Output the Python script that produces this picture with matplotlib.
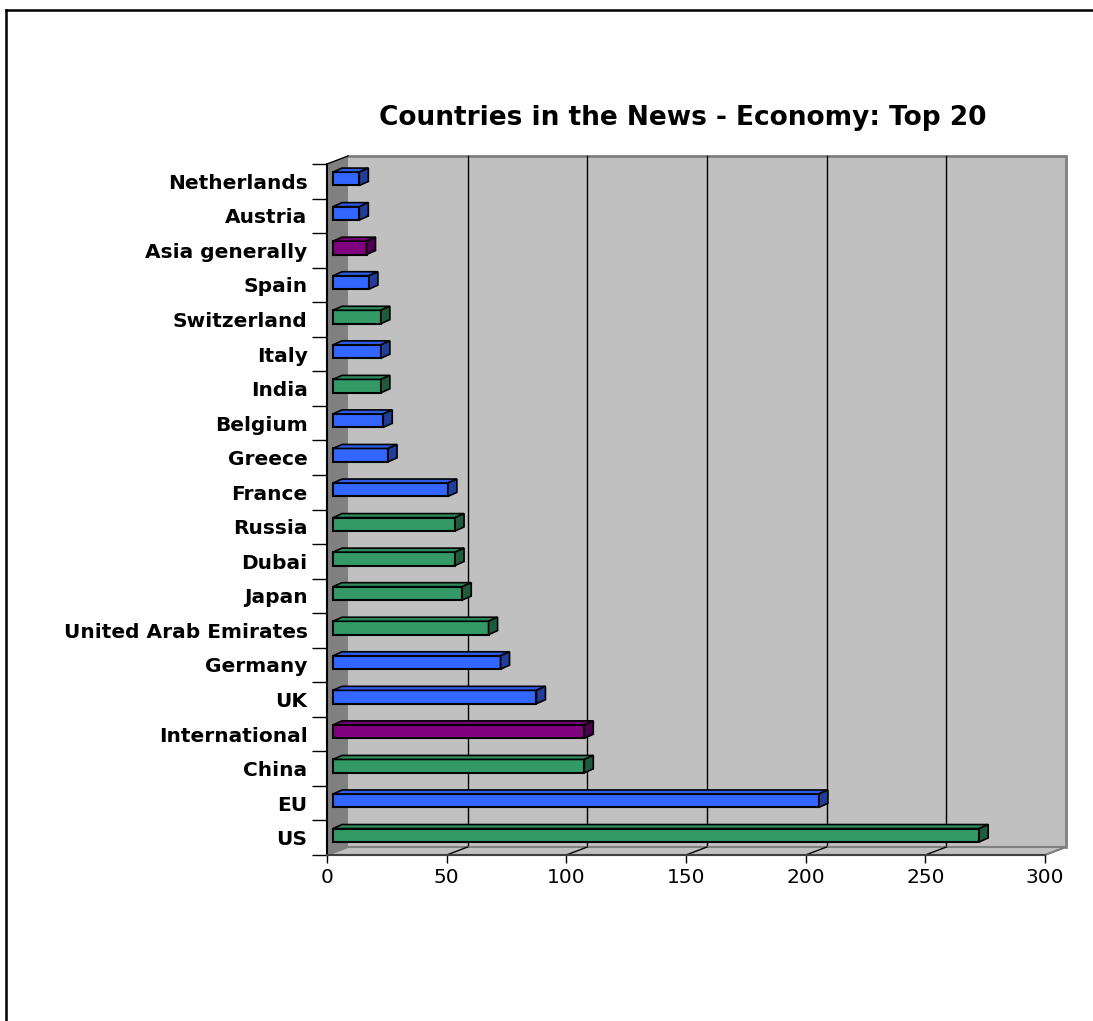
import numpy as np
import matplotlib
matplotlib.use("Agg")
import matplotlib.pyplot as plt
from matplotlib.patches import Polygon
from matplotlib.lines import Line2D

# data, bottom (US) to top (Netherlands)
countries = ["US", "EU", "China", "International", "UK", "Germany",
             "United Arab Emirates", "Japan", "Dubai", "Russia", "France",
             "Greece", "Belgium", "India", "Italy", "Switzerland", "Spain",
             "Asia generally", "Austria", "Netherlands"]
mentions = [270, 203, 105, 105, 85, 70, 65, 54, 51, 51, 48,
            23, 21, 20, 20, 20, 15, 14, 11, 11]
groups = ["green", "blue", "green", "purple", "blue", "blue",
          "green", "green", "green", "green", "blue",
          "blue", "blue", "green", "blue", "green", "blue",
          "purple", "blue", "blue"]
x_ticks = [0, 50, 100, 150, 200, 250, 300]

front_col = {"blue": "#3366ff", "green": "#339966", "purple": "#800080"}
top_col = {"blue": "#2e5ce6", "green": "#2e8a5c", "purple": "#730073"}
side_col = {"blue": "#1f3d99", "green": "#1f5c3d", "purple": "#4d004d"}

W, H = 1093, 1021
fig = plt.figure(figsize=(W / 100, H / 100), dpi=100)
fig.patch.set_facecolor("white")

# front plane of the 3d box
ax = fig.add_axes([327 / W, 1 - 855 / H, 718 / W, 691 / H])
ax.set_xlim(0, 300)
ax.set_ylim(-0.5, 19.5)
ax.patch.set_visible(False)

# pixel offsets -> data offsets
sx = 718 / 300
sy = 691 / 20


def px(dx, dy):
    return dx / sx, dy / sy


Dx, Dy = px(21, 8)          # wall depth
bx, by = px(6, 2.5)         # bar front offset
bdx, bdy = px(9, 4)         # bar depth
bh = 13.4 / sy              # bar height
y0, y1 = -0.5, 19.5
xmax = x_ticks[-1]

# back wall
ax.add_patch(Polygon([(Dx, y0 + Dy), (xmax + Dx, y0 + Dy), (xmax + Dx, y1 + Dy), (Dx, y1 + Dy)],
                     closed=True, fc="#c0c0c0", ec="none", clip_on=False, zorder=0))
ax.plot([Dx, xmax + Dx, xmax + Dx], [y1 + Dy, y1 + Dy, y0 + Dy], color="#808080", lw=2,
        clip_on=False, zorder=1, solid_joinstyle="miter")
for t in x_ticks[1:-1]:
    ax.plot([t + Dx, t + Dx], [y0 + Dy, y1 + Dy], color="black", lw=1, clip_on=False, zorder=1)

# floor
ax.add_patch(Polygon([(0, y0), (xmax, y0), (xmax + Dx, y0 + Dy), (Dx, y0 + Dy)],
                     closed=True, fc="#c0c0c0", ec="#808080", lw=1.5, clip_on=False, zorder=2))
for t in x_ticks[1:]:
    ax.plot([t, t + Dx], [y0, y0 + Dy], color="black" if t < xmax else "#808080", lw=1,
            clip_on=False, zorder=3)

# left wall
ax.add_patch(Polygon([(0, y0), (0, y1), (Dx, y1 + Dy), (Dx, y0 + Dy)],
                     closed=True, fc="#808080", ec="none", clip_on=False, zorder=2))
ax.plot([0, Dx], [y1, y1 + Dy], color="black", lw=1, clip_on=False, zorder=3)

# bars: front faces
ypos = np.arange(len(countries))
ax.barh(ypos + by, mentions, left=bx, height=bh,
        color=[front_col[g] for g in groups], edgecolor="black", lw=1.5,
        zorder=5, clip_on=False)
# top and side faces
for yc, v, g in zip(ypos + by, mentions, groups):
    yt, yb = yc + bh / 2, yc - bh / 2
    l, r = bx, bx + v
    ax.add_patch(Polygon([(l, yt), (r, yt), (r + bdx, yt + bdy), (l + bdx, yt + bdy)],
                         closed=True, fc=top_col[g], ec="black", lw=1.2, zorder=5, clip_on=False))
    ax.add_patch(Polygon([(r, yb), (r, yt), (r + bdx, yt + bdy), (r + bdx, yb + bdy)],
                         closed=True, fc=side_col[g], ec="black", lw=1.2, zorder=5, clip_on=False))

# axes lines and ticks
for s in ["top", "right"]:
    ax.spines[s].set_visible(False)
ax.spines["left"].set_color("black")
ax.spines["left"].set_linewidth(1.5)
ax.spines["left"].set_zorder(4)
ax.spines["bottom"].set_color("#404040")
ax.spines["bottom"].set_linewidth(1.5)
ax.spines["bottom"].set_zorder(4)

ax.set_yticks(ypos)
ax.set_yticklabels(countries, fontsize=14.5, fontweight="bold", family="DejaVu Sans")
ax.set_yticks(np.arange(y0, y1 + 0.1, 1), minor=True)
ax.tick_params(axis="y", which="major", length=0, pad=14)
ax.tick_params(axis="y", which="minor", length=10.8, width=1, color="black")

ax.set_xticks(x_ticks)
ax.set_xticklabels([str(t) for t in x_ticks], fontsize=14.5, family="DejaVu Sans")
ax.tick_params(axis="x", length=5.5, width=1, color="black", pad=4)

fig.text(683 / W, 1 - 118 / H, "Countries in the News - Economy: Top 20",
         ha="center", va="center", fontsize=19, fontweight="bold", family="DejaVu Sans")

# chart area border
fig.add_artist(Line2D([6 / W, 1], [1 - 10 / H, 1 - 10 / H], transform=fig.transFigure,
                      color="black", lw=1.8))
fig.add_artist(Line2D([6 / W, 6 / W], [0, 1 - 10 / H], transform=fig.transFigure,
                      color="black", lw=1.8))

fig.savefig("out.png", dpi=100)
